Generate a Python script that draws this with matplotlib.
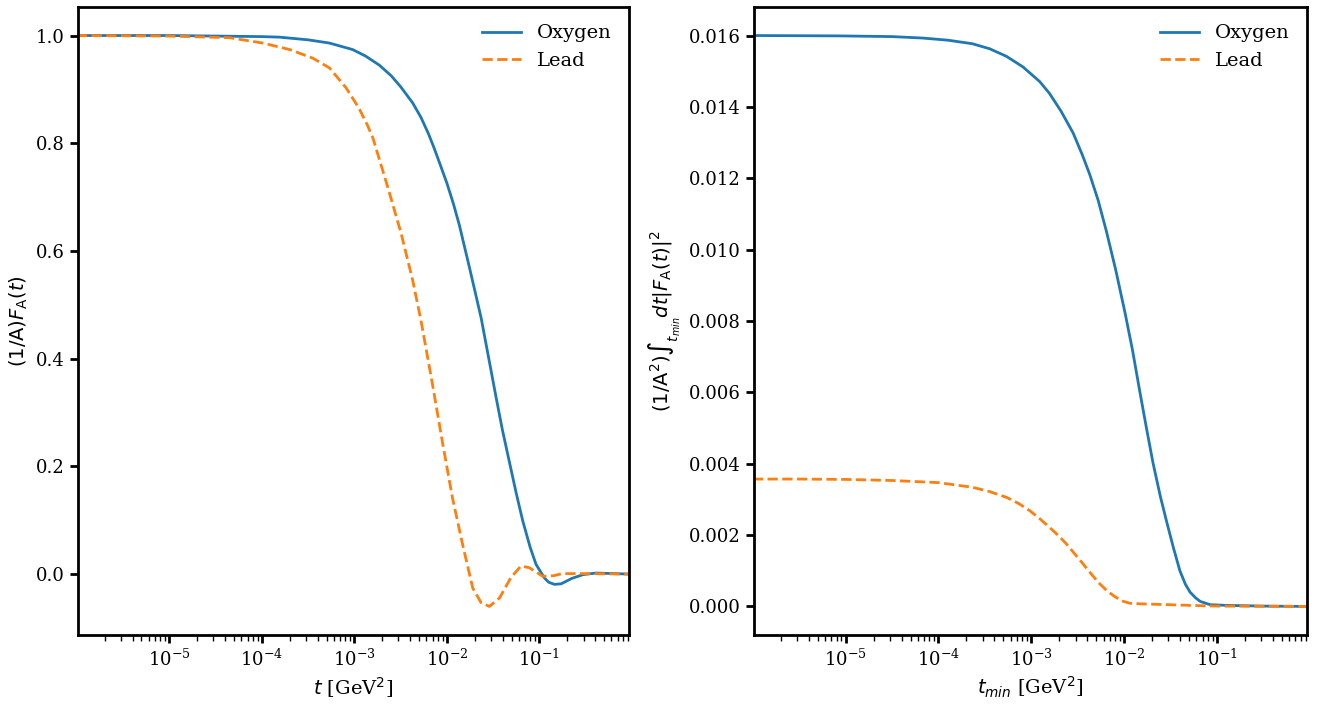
import numpy as np
import matplotlib
matplotlib.use("Agg")
import matplotlib.pyplot as plt

plt.rcParams['font.family'] = 'serif'
plt.rcParams['font.size'] = 14
plt.rcParams['xtick.labelsize'] = 13
plt.rcParams['ytick.labelsize'] = 13

# log10(t) grid and values
logt_ff_oxygen = [-6, -5, -4.5, -4, -3.81, -3.5, -3.27, -3.02, -2.88, -2.73, -2.6, -2.5, -2.37,
                  -2.28, -2.2, -2.14, -2.08, -2.0, -1.93, -1.865, -1.75, -1.63, -1.55, -1.47,
                  -1.40, -1.32, -1.25, -1.18, -1.10, -1.036, -0.946, -0.9, -0.838, -0.765,
                  -0.65, -0.53, -0.39, -0.2, 0]
ff_oxygen = [1.0, 1.0, 0.999, 0.998, 0.997, 0.992, 0.986, 0.974, 0.962, 0.945, 0.925, 0.905, 0.875,
             0.848, 0.818, 0.792, 0.764, 0.726, 0.688, 0.648, 0.565, 0.476, 0.403, 0.330,
             0.268, 0.205, 0.150, 0.099, 0.050, 0.018, -0.007, -0.015, -0.019, -0.018,
             -0.008, -0.001, 0.002, 0.001, 0.0]

logt_ff_lead = [-6, -5, -4.35, -3.99, -3.70, -3.45, -3.27, -3.09, -2.95, -2.86, -2.80, -2.64,
                -2.495, -2.37, -2.28, -2.15, -2.045, -1.94, -1.83, -1.72, -1.63, -1.54, -1.43,
                -1.31, -1.2, -1.11, -0.964, -0.85, -0.75, -0.53, 0]
ff_lead = [1.0, 0.999, 0.996, 0.986, 0.974, 0.958, 0.940, 0.903, 0.865, 0.834, 0.81, 0.719,
           0.633, 0.546, 0.471, 0.347, 0.242, 0.142, 0.055, -0.026, -0.053, -0.060, -0.044,
           -0.007, 0.015, 0.012, -0.004, -0.003, 0.001, 0.001, 0.0]

logt_int_oxygen = [-6, -5.08, -4.5, -4.175, -3.9, -3.635, -3.45, -3.27, -3.09, -2.91, -2.805,
                   -2.68, -2.55, -2.45, -2.37, -2.28, -2.19, -2.09, -1.99, -1.91, -1.83, -1.76,
                   -1.69, -1.61, -1.54, -1.47, -1.40, -1.34, -1.29, -1.23, -1.18, -1.076,
                   -0.9, -0.5, 0]
int_oxygen = [0.01600, 0.01599, 0.01597, 0.01593, 0.01587, 0.01577, 0.01563, 0.01542, 0.01512,
              0.01471, 0.01438, 0.01388, 0.01327, 0.01265, 0.01210, 0.01138, 0.01050, 0.00942,
              0.00822, 0.00718, 0.00600, 0.00500, 0.00403, 0.00308, 0.00235, 0.00165, 0.00100,
              0.00062, 0.00040, 0.00024, 0.00014, 0.00005, 0.00003, 0.00001, 0.0]

logt_int_lead = [-6, -5.5, -5, -4.5, -4, -3.635, -3.45, -3.27, -3.14, -3.02, -2.91, -2.805,
                 -2.71, -2.625, -2.535, -2.445, -2.355, -2.265, -2.19, -2.12, -2.03, -1.94,
                 -1.8, -1.65, -1.29, -1.0, 0]
int_lead = [0.00357, 0.00357, 0.00356, 0.00353, 0.00347, 0.00334, 0.00322, 0.00306, 0.00289,
            0.00269, 0.00246, 0.00222, 0.00199, 0.00176, 0.00148, 0.00120, 0.00091, 0.00064,
            0.00045, 0.00031, 0.00016, 0.00009, 0.00007, 0.00006, 0.00003, 0.00001, 0.0]


def style_axis(ax):
    ax.set_xscale('log')
    ax.set_xlim(1.03e-6, 0.93)
    for s in ax.spines.values():
        s.set_linewidth(2)
    ax.tick_params(which='major', length=6, width=2)
    ax.tick_params(which='minor', length=4, width=1)
    ax.legend(loc='upper right', frameon=False)


fig = plt.figure(figsize=(13.2, 7.05), dpi=100)
ax1 = fig.add_axes([0.0591, 0.0993, 0.4174, 0.8908])
ax2 = fig.add_axes([0.5712, 0.0993, 0.4189, 0.8908])

ax1.plot(10.0 ** np.array(logt_ff_oxygen), ff_oxygen, '-', color='tab:blue', lw=2, label='Oxygen')
ax1.plot(10.0 ** np.array(logt_ff_lead), ff_lead, '--', color='tab:orange', lw=2, label='Lead')
ax1.set_xlabel(r'$t$ [GeV$^2$]')
ax1.set_ylabel(r'$(1/\mathrm{A})F_\mathrm{A}(t)$')
style_axis(ax1)

ax2.plot(10.0 ** np.array(logt_int_oxygen), int_oxygen, '-', color='tab:blue', lw=2, label='Oxygen')
ax2.plot(10.0 ** np.array(logt_int_lead), int_lead, '--', color='tab:orange', lw=2, label='Lead')
ax2.set_xlabel(r'$t_{min}$ [GeV$^2$]')
ax2.set_ylabel(r'$(1/\mathrm{A}^2)\int_{t_{min}} dt|F_\mathrm{A}(t)|^2$')
style_axis(ax2)

fig.savefig('out.png', dpi=100)
